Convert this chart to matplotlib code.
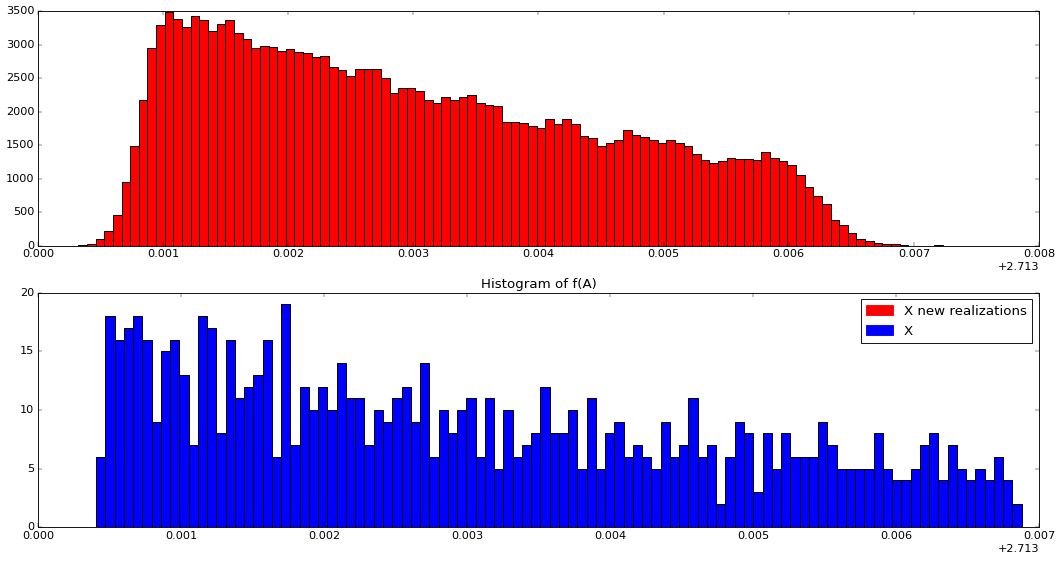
import matplotlib
matplotlib.use('Agg')
import matplotlib.pyplot as plt
import matplotlib.patches as mpatches
import numpy as np

OFFSET = 2.713

# counts of the "X new realizations" histogram (100 bins)
new_counts = [
    10, 25, 105, 220, 455, 945, 1480, 2180, 2945, 3290,
    3490, 3375, 3265, 3420, 3360, 3205, 3300, 3365, 3175, 3090,
    2955, 2985, 2970, 2900, 2935, 2888, 2878, 2813, 2823, 2669,
    2614, 2535, 2634, 2634, 2634, 2495, 2276, 2351, 2351, 2306,
    2167, 2132, 2222, 2172, 2212, 2251, 2127, 2092, 2082, 1839,
    1839, 1829, 1789, 1754, 1894, 1819, 1884, 1819, 1640, 1600,
    1491, 1531, 1570, 1730, 1650, 1620, 1570, 1531, 1570, 1531,
    1481, 1367, 1282, 1238, 1257, 1307, 1287, 1297, 1277, 1397,
    1307, 1257, 1205, 1054, 875, 736, 616, 383, 313, 194,
    99, 65, 35, 20, 20, 10, 3, 0, 0, 8,
]
new_range = (OFFSET + 0.000322, OFFSET + 0.007232)

# counts of the "X" histogram (100 bins)
x_counts = [
    6, 18, 16, 17, 18, 16, 9, 15, 16, 13,
    7, 18, 17, 8, 16, 11, 12, 13, 16, 6,
    19, 7, 12, 10, 12, 10, 14, 11, 11, 7,
    10, 9, 11, 12, 9, 14, 6, 10, 8, 10,
    11, 6, 11, 5, 10, 6, 7, 8, 12, 8,
    8, 10, 5, 11, 5, 8, 9, 6, 7, 6,
    5, 9, 6, 7, 11, 6, 7, 2, 6, 9,
    8, 3, 8, 5, 8, 6, 6, 6, 9, 7,
    5, 5, 5, 5, 8, 5, 4, 4, 5, 7,
    8, 4, 7, 5, 4, 5, 4, 6, 4, 2,
]
x_range = (OFFSET + 0.000406, OFFSET + 0.006879)

plt.style.use('classic')
plt.rcParams['savefig.facecolor'] = 'white'
plt.rcParams['figure.facecolor'] = 'white'
plt.rcParams['font.size'] = 12.6

DPI = 64
fig = plt.figure(figsize=(1057 / DPI, 562 / DPI), dpi=DPI)
ax1 = fig.add_axes([0.03595, 0.5628, 0.94702, 0.4176])
ax2 = fig.add_axes([0.03595, 0.06174, 0.94702, 0.41744])


def draw_hist(ax, counts, rng, color):
    edges = np.linspace(rng[0], rng[1], len(counts) + 1)
    return ax.bar(edges[:-1], counts, width=np.diff(edges), align='edge',
                  color=color, edgecolor='black', linewidth=1.1)


draw_hist(ax1, new_counts, new_range, 'red')
draw_hist(ax2, x_counts, x_range, 'blue')

ax1.set_xlim(OFFSET, OFFSET + 0.008)
ax1.set_ylim(0, 3500)
ax1.set_xticks(OFFSET + np.arange(0, 0.0081, 0.001))
ax2.set_xlim(OFFSET, OFFSET + 0.007)
ax2.set_ylim(0, 20)
ax2.set_xticks(OFFSET + np.arange(0, 0.0071, 0.001))

for ax in (ax1, ax2):
    fmt = ax.xaxis.get_major_formatter()
    fmt.set_useOffset(OFFSET)

ax2.set_title('Histogram of f(A)')
handles = [mpatches.Patch(color='red', label='X new realizations'),
           mpatches.Patch(color='blue', label='X')]
ax2.legend(handles=handles, loc='upper right')

fig.savefig('out.png', dpi=DPI)
